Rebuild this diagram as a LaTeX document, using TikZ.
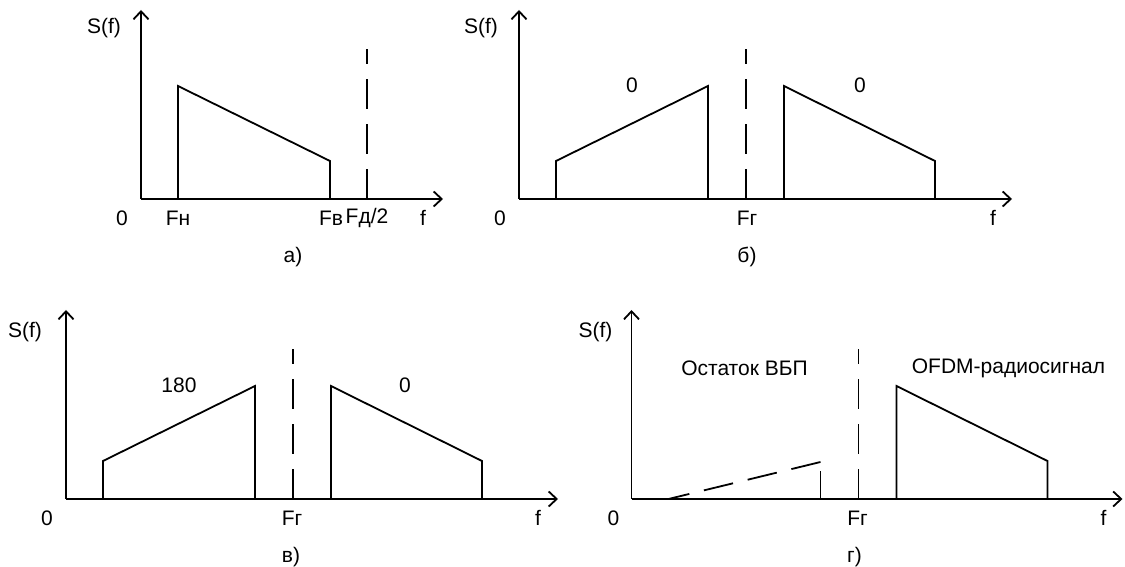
\documentclass[tikz,border=0pt]{standalone}
\usepackage{fontspec}
\setmainfont{Liberation Sans}
\usepackage{tikz}
\usetikzlibrary{arrows.meta}

\begin{document}
\begin{tikzpicture}[x=0.5pt, y=0.5pt, font=\fontsize{10.5}{12}\selectfont,
  axis/.style={-{Straight Barb[length=4pt,width=7.5pt]}, line width=0.9pt},
  band/.style={line width=0.9pt, line join=miter},
  carrier/.style={line width=0.9pt, dash pattern=on 15pt off 7.5pt}]
\useasboundingbox (0,0) rectangle (1125,567);
% a) baseband spectrum
\begin{scope}[shift={(141,368)}]
\draw[axis] (0,0) -- (0,189);
\draw[axis] (0,0) -- (302,0);
\draw[band] (37,0) -- (37,113) -- (189,38) -- (189,0);
\draw[carrier] (226,0) -- (226,150);
\node (aS) at (-37,171) {S(f)};
\node (a0) at (-19,-19) {0};
\node (aFn) at (37,-19) {Fн};
\node (aFv) at (190,-19) {Fв};
\node (aFd) at (226,-19) {Fд/2};
\node (af) at (282,-19) {f};
\node (acap) at (152,-58) {а)};
\end{scope}
% b) both sidebands in phase
\begin{scope}[shift={(519,368)}]
\draw[axis] (0,0) -- (0,189);
\draw[axis] (0,0) -- (493,0);
\draw[band] (37,0) -- (37,38) -- (189,113) -- (189,0);
\draw[band] (265,0) -- (265,113) -- (416,38) -- (416,0);
\draw[carrier] (227,0) -- (227,150);
\node (bS) at (-38,171) {S(f)};
\node (bl) at (113,114) {0};
\node (br) at (341,114) {0};
\node (b0) at (-19,-19) {0};
\node (bFg) at (228,-19) {Fг};
\node (bf) at (474,-19) {f};
\node (bcap) at (228,-58) {б)};
\end{scope}
% c) lower sideband inverted
\begin{scope}[shift={(66,68)}]
\draw[axis] (0,0) -- (0,189);
\draw[axis] (0,0) -- (492,0);
\draw[band] (37,0) -- (37,38) -- (189,113) -- (189,0);
\draw[band] (265,0) -- (265,113) -- (416,38) -- (416,0);
\draw[carrier] (227,0) -- (227,150);
\node (cS) at (-41,167) {S(f)};
\node (cl) at (113,114) {180};
\node (cr) at (339,114) {0};
\node (c0) at (-19,-19) {0};
\node (cFg) at (226,-19) {Fг};
\node (cf) at (472,-19) {f};
\node (ccap) at (225,-58) {в)};
\end{scope}
% d) residual sideband
\begin{scope}[shift={(631.5,68)}]
\draw[axis] (0,0) -- (0,189);
\draw[axis] (0,0) -- (491,0);
\draw[carrier] (189,37) -- (37,0);
\draw[band] (189,0) -- (189,28);
\draw[band] (265,0) -- (265,113) -- (416,38) -- (416,0);
\draw[carrier] (227,0) -- (227,150);
\node (dS) at (-36,167) {S(f)};
\node (dl) at (113,131) {Остаток ВБП};
\node (dr) at (377,131) {OFDM-радиосигнал};
\node (d0) at (-18,-19) {0};
\node (dFg) at (226,-19) {Fг};
\node (df) at (472,-19) {f};
\node (dcap) at (223,-58) {г)};
\end{scope}
\end{tikzpicture}
\end{document}
